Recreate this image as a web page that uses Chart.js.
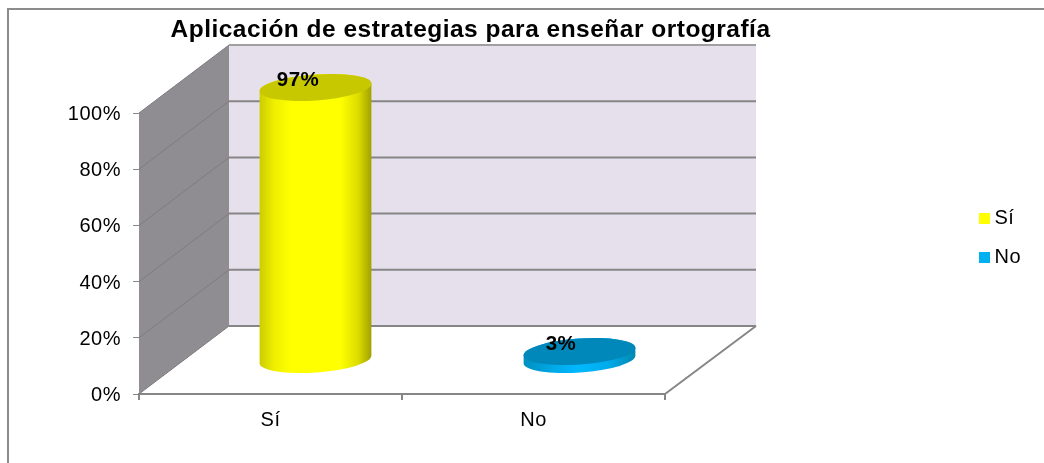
<!DOCTYPE html>
<html>
<head>
<meta charset="utf-8">
<style>html,body{margin:0;padding:0;background:#fff}canvas{display:block}</style>
<script src="https://cdn.jsdelivr.net/npm/chart.js@4/dist/chart.umd.min.js"></script>
</head>
<body>
<canvas id="c" width="1044" height="463"></canvas>
<script>
const chartTitle = "Aplicación de estrategias para enseñar ortografía";
const categories = ["Sí", "No"];
const values = [97, 3];
const legendColors = ["#ffff00", "#00b0f0"];
const topColors = ["#c8c800", "#0088bb"];
const sideStops = [
  [[0,"#cccc00"],[0.13,"#eeee00"],[0.28,"#ffff00"],[0.72,"#ffff00"],[0.88,"#dddd00"],[1,"#a0a000"]],
  [[0,"#0090c0"],[0.3,"#00acec"],[0.5,"#00b8ff"],[0.75,"#00acec"],[1,"#0088b0"]]
];
const yTicks = [0, 20, 40, 60, 80, 100];

const FONT = "'Liberation Sans', Arial, sans-serif";
const depthX = 90, depthY = 68;
const gridColor = "#868686";

function legendSwatch(color){
  const s = document.createElement("canvas");
  s.width = 11; s.height = 11;
  const x = s.getContext("2d");
  x.fillStyle = color; x.fillRect(0,0,11,11);
  return s;
}

const scene3d = {
  id: "scene3d",
  afterLayout(chart){
    const t = chart.titleBlock;
    t.left = 470.5 - 300; t.right = 470.5 + 300;
    const l = chart.legend;
    l.left = 964.5; l.right = 1044; l.top = 189; l.bottom = 300;
  },
  beforeDraw(chart){
    // the reference's text is slightly wider than the installed font
    chart.ctx.letterSpacing = "0.5px";
  },
  beforeDatasetsDraw(chart){
    const {ctx} = chart;
    const a = chart.chartArea;
    const y = chart.scales.y;
    ctx.save();
    // outer frame
    ctx.strokeStyle = "#8c8c8c"; ctx.lineWidth = 2;
    ctx.beginPath(); ctx.moveTo(8,463); ctx.lineTo(8,9); ctx.lineTo(1044,9); ctx.stroke();
    // back wall
    ctx.fillStyle = "#e6e0ec";
    ctx.fillRect(a.left+depthX, a.top-depthY, a.right-a.left+1, a.bottom-a.top);
    // side wall
    ctx.fillStyle = "#8f8c92";
    ctx.beginPath();
    ctx.moveTo(a.left,a.top); ctx.lineTo(a.left+depthX,a.top-depthY);
    ctx.lineTo(a.left+depthX,a.bottom-depthY); ctx.lineTo(a.left,a.bottom); ctx.closePath(); ctx.fill();
    // grid lines
    yTicks.forEach(v=>{
      const py = y.getPixelForValue(v);
      ctx.strokeStyle = "#7d7d80"; ctx.lineWidth = 1;
      ctx.beginPath(); ctx.moveTo(a.left,py); ctx.lineTo(a.left+depthX,py-depthY); ctx.stroke();
      ctx.strokeStyle = v===100 ? "#a0a0a0" : gridColor; ctx.lineWidth = 2;
      ctx.beginPath(); ctx.moveTo(a.left+depthX,py-depthY); ctx.lineTo(a.right+depthX+1,py-depthY); ctx.stroke();
    });
    // floor edge
    ctx.strokeStyle = gridColor; ctx.lineWidth = 2;
    ctx.beginPath(); ctx.moveTo(a.right,a.bottom); ctx.lineTo(a.right+depthX+1,a.bottom-depthY); ctx.stroke();
    ctx.restore();
  },
  afterDatasetsDraw(chart){
    const {ctx} = chart;
    const meta = chart.getDatasetMeta(0);
    const rot = -4*Math.PI/180;
    meta.data.forEach((bar,i)=>{
      const cx = bar.x + depthX/2 + i;
      const topY = bar.y - depthY/2;
      const baseY = bar.base - depthY/2;
      const rx = bar.width/2, ry = 13;
      const g = ctx.createLinearGradient(cx-rx,0,cx+rx,0);
      sideStops[i].forEach(s=>g.addColorStop(s[0],s[1]));
      ctx.save();
      ctx.fillStyle = g;
      ctx.beginPath();
      ctx.ellipse(cx,baseY,rx,ry,rot,0,Math.PI,false);
      ctx.ellipse(cx,topY,rx,ry,rot,Math.PI,2*Math.PI,false);
      ctx.closePath(); ctx.fill();
      ctx.fillStyle = topColors[i];
      ctx.beginPath(); ctx.ellipse(cx,topY,rx,ry,rot,0,2*Math.PI); ctx.fill();
      ctx.fillStyle = "#000";
      ctx.font = "bold 20.5px "+FONT;
      ctx.textAlign = "center"; ctx.textBaseline = "middle";
      ctx.fillText(values[i]+"%", bar.x+27.5, bar.y-41);
      ctx.restore();
    });
  }
};

new Chart(document.getElementById("c"), {
  type: "bar",
  data: {
    labels: categories,
    datasets: [{
      data: values,
      backgroundColor: "transparent",
      borderWidth: 0,
      barPercentage: 0.426,
      categoryPercentage: 1
    }]
  },
  plugins: [scene3d],
  options: {
    responsive: false,
    animation: false,
    devicePixelRatio: 1,
    layout: {padding: {left: 0, right: 379, top: 0, bottom: 0}},
    plugins: {
      title: {
        display: true,
        text: chartTitle,
        color: "#000",
        font: {family: FONT, size: 24.5, weight: "bold", lineHeight: 1.2},
        padding: {top: 16, bottom: 67.6}
      },
      legend: {
        display: true,
        position: "chartArea",
        align: "start",
        labels: {
          color: "#000",
          font: {family: FONT, size: 20},
          usePointStyle: true,
          pointStyleWidth: 1,
          padding: 19,
          generateLabels(){
            return categories.map((c,i)=>({text:c, fontColor:"#000", pointStyle: legendSwatch(legendColors[i]), datasetIndex:0, index:i, lineWidth:0, strokeStyle:"transparent", fillStyle:legendColors[i]}));
          }
        }
      },
      tooltip: {enabled:false}
    },
    scales: {
      x: {
        afterFit(s){ s.height = 69; },
        grid: {drawOnChartArea:false, drawTicks:true, tickLength:6, color:gridColor, lineWidth:2, offset:true},
        border: {display:true, color:gridColor, width:2},
        ticks: {color:"#000", padding:8, font:{family:FONT,size:20}, maxRotation:0}
      },
      y: {
        min: 0, max: 100,
        afterFit(s){ s.width = 139; },
        afterBuildTicks(s){ s.ticks = yTicks.map(v=>({value:v})); },
        grid: {drawOnChartArea:false, drawTicks:true, tickLength:6, color:gridColor, lineWidth:1},
        border: {display:true, color:gridColor, width:1},
        ticks: {color:"#000", padding:12, labelOffset:1.5, font:{family:FONT,size:20}, callback:v=>v+"%"}
      }
    }
  }
});
</script>
</body>
</html>
